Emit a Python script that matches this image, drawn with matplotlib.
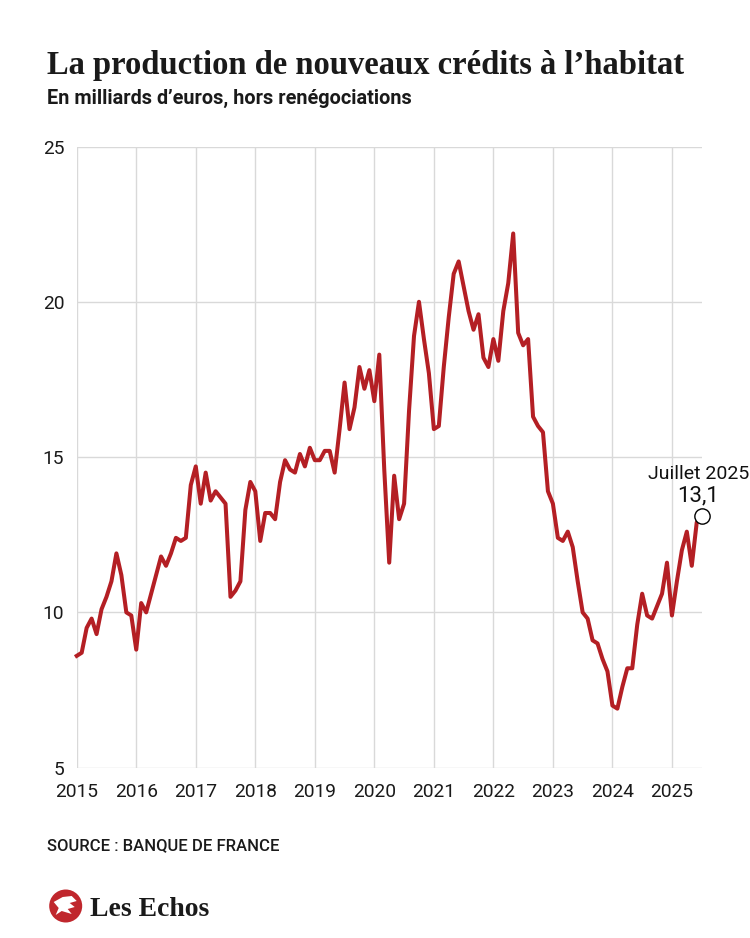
import numpy as np
import matplotlib
matplotlib.use("Agg")
import matplotlib.pyplot as plt
from matplotlib import font_manager
from matplotlib.patches import Circle, Polygon
from matplotlib.transforms import IdentityTransform

# monthly production of new housing loans (bn EUR, excl. renegotiations), Jan 2015 -> Jul 2025
v2015 = [8.6, 8.7, 9.5, 9.8, 9.3, 10.1, 10.5, 11.0, 11.9, 11.2, 10.0, 9.9]
v2016 = [8.8, 10.3, 10.0, 10.6, 11.2, 11.8, 11.5, 11.9, 12.4, 12.3, 12.4, 14.1]
v2017 = [14.7, 13.5, 14.5, 13.6, 13.9, 13.7, 13.5, 10.5, 10.7, 11.0, 13.3, 14.2]
v2018 = [13.9, 12.3, 13.2, 13.2, 13.0, 14.2, 14.9, 14.6, 14.5, 15.1, 14.7, 15.3]
v2019 = [14.9, 14.9, 15.2, 15.2, 14.5, 15.9, 17.4, 15.9, 16.6, 17.9, 17.2, 17.8]
v2020 = [16.8, 18.3, 14.6, 11.6, 14.4, 13.0, 13.5, 16.5, 18.9, 20.0, 18.8, 17.7]
v2021 = [15.9, 16.0, 17.9, 19.5, 20.9, 21.3, 20.5, 19.7, 19.1, 19.6, 18.2, 17.9]
v2022 = [18.8, 18.1, 19.7, 20.6, 22.2, 19.0, 18.6, 18.8, 16.3, 16.0, 15.8, 13.9]
v2023 = [13.5, 12.4, 12.3, 12.6, 12.1, 11.0, 10.0, 9.8, 9.1, 9.0, 8.5, 8.1]
v2024 = [7.0, 6.9, 7.6, 8.2, 8.2, 9.6, 10.6, 9.9, 9.8, 10.2, 10.6, 11.6]
v2025 = [9.9, 11.0, 12.0, 12.6, 11.5, 12.9, 13.1]

years = list(range(2015, 2026))
yticks = [5, 10, 15, 20, 25]
last_label = "Juillet 2025"

values = np.array(v2015 + v2016 + v2017 + v2018 + v2019 + v2020
                  + v2021 + v2022 + v2023 + v2024 + v2025)
x = 2015 + np.arange(len(values)) / 12.0

installed = {f.name for f in font_manager.fontManager.ttflist}
narrow = "Liberation Sans Narrow" if "Liberation Sans Narrow" in installed else "Roboto"
sans = "Roboto"
serif = "Liberation Serif"

red = "#b41f24"
grid = "#d9d9d9"

fig = plt.figure(figsize=(7.5, 9.38), dpi=100)
ax = fig.add_axes([0.1023, 0.1816, 0.9356 - 0.1023, 0.8438 - 0.1816])

ax.plot(x, values, color=red, lw=2.9, clip_on=False, zorder=3)
ax.plot(x[-1], values[-1], "o", ms=11, mfc="white", mec="black", mew=1.0,
        clip_on=False, zorder=4)

ax.set_xlim(2015, 2025.5)
ax.set_ylim(5, 25)
ax.set_xticks(years)
ax.set_xticklabels([str(y) for y in years], fontfamily=sans, fontsize=13.8)
ax.set_yticks(yticks)
ax.set_yticklabels([str(t) for t in yticks], fontfamily=sans, fontsize=13.8)
ax.tick_params(axis="both", length=0, colors="#1a1a1a")
ax.tick_params(axis="x", pad=11)
ax.tick_params(axis="y", pad=9)
ax.grid(True, color=grid, lw=1.0)
ax.set_axisbelow(True)
for s in ax.spines.values():
    s.set_visible(False)

# end-of-series annotation
ax.annotate(f"{values[-1]:.1f}".replace(".", ","), xy=(x[-1], values[-1]),
            xytext=(-4, 15), textcoords="offset pixels", ha="center",
            va="baseline", fontfamily=sans, fontsize=16, color="#111111",
            annotation_clip=False)
ax.annotate(last_label, xy=(x[-1], values[-1]), xytext=(-3, 37),
            textcoords="offset pixels", ha="center", va="baseline",
            fontfamily=sans, fontsize=14, color="#111111", annotation_clip=False)

# titles
fig.text(47 / 750, 1 - 74 / 938, "La production de nouveaux crédits à l\u2019habitat",
         fontfamily=serif, fontweight="bold", fontsize=23.5, color="#1a1a1a",
         va="baseline")
fig.text(47 / 750, 1 - 104 / 938, "En milliards d\u2019euros, hors renégociations",
         fontfamily=narrow, fontweight="bold", fontsize=14.3, color="#1a1a1a",
         va="baseline")
fig.text(47 / 750, 1 - 850 / 938, "SOURCE : BANQUE DE FRANCE",
         fontfamily=sans, fontweight="medium", fontsize=12, color="#1a1a1a",
         va="baseline")

# logo
cx, cy = 65.7, 938 - 906
fig.add_artist(Circle((cx, cy), 16.5, transform=IdentityTransform(),
                      facecolor="#c0272d", edgecolor="none"))
wing = [(-12, 4), (-3, 9), (6, 10), (11, 5), (4, 3), (9, -1), (2, -3),
        (6, -8), (-4, -5), (-10, -9), (-7, -2)]
fig.add_artist(Polygon([(cx + a, cy + b) for a, b in wing], closed=True,
                       transform=IdentityTransform(), facecolor="white",
                       edgecolor="none"))
fig.text(90 / 750, 1 - 916 / 938, "Les Echos", fontfamily=serif,
         fontweight="bold", fontsize=20, color="#1a1a1a", va="baseline")

fig.savefig("out.png", dpi=100)
